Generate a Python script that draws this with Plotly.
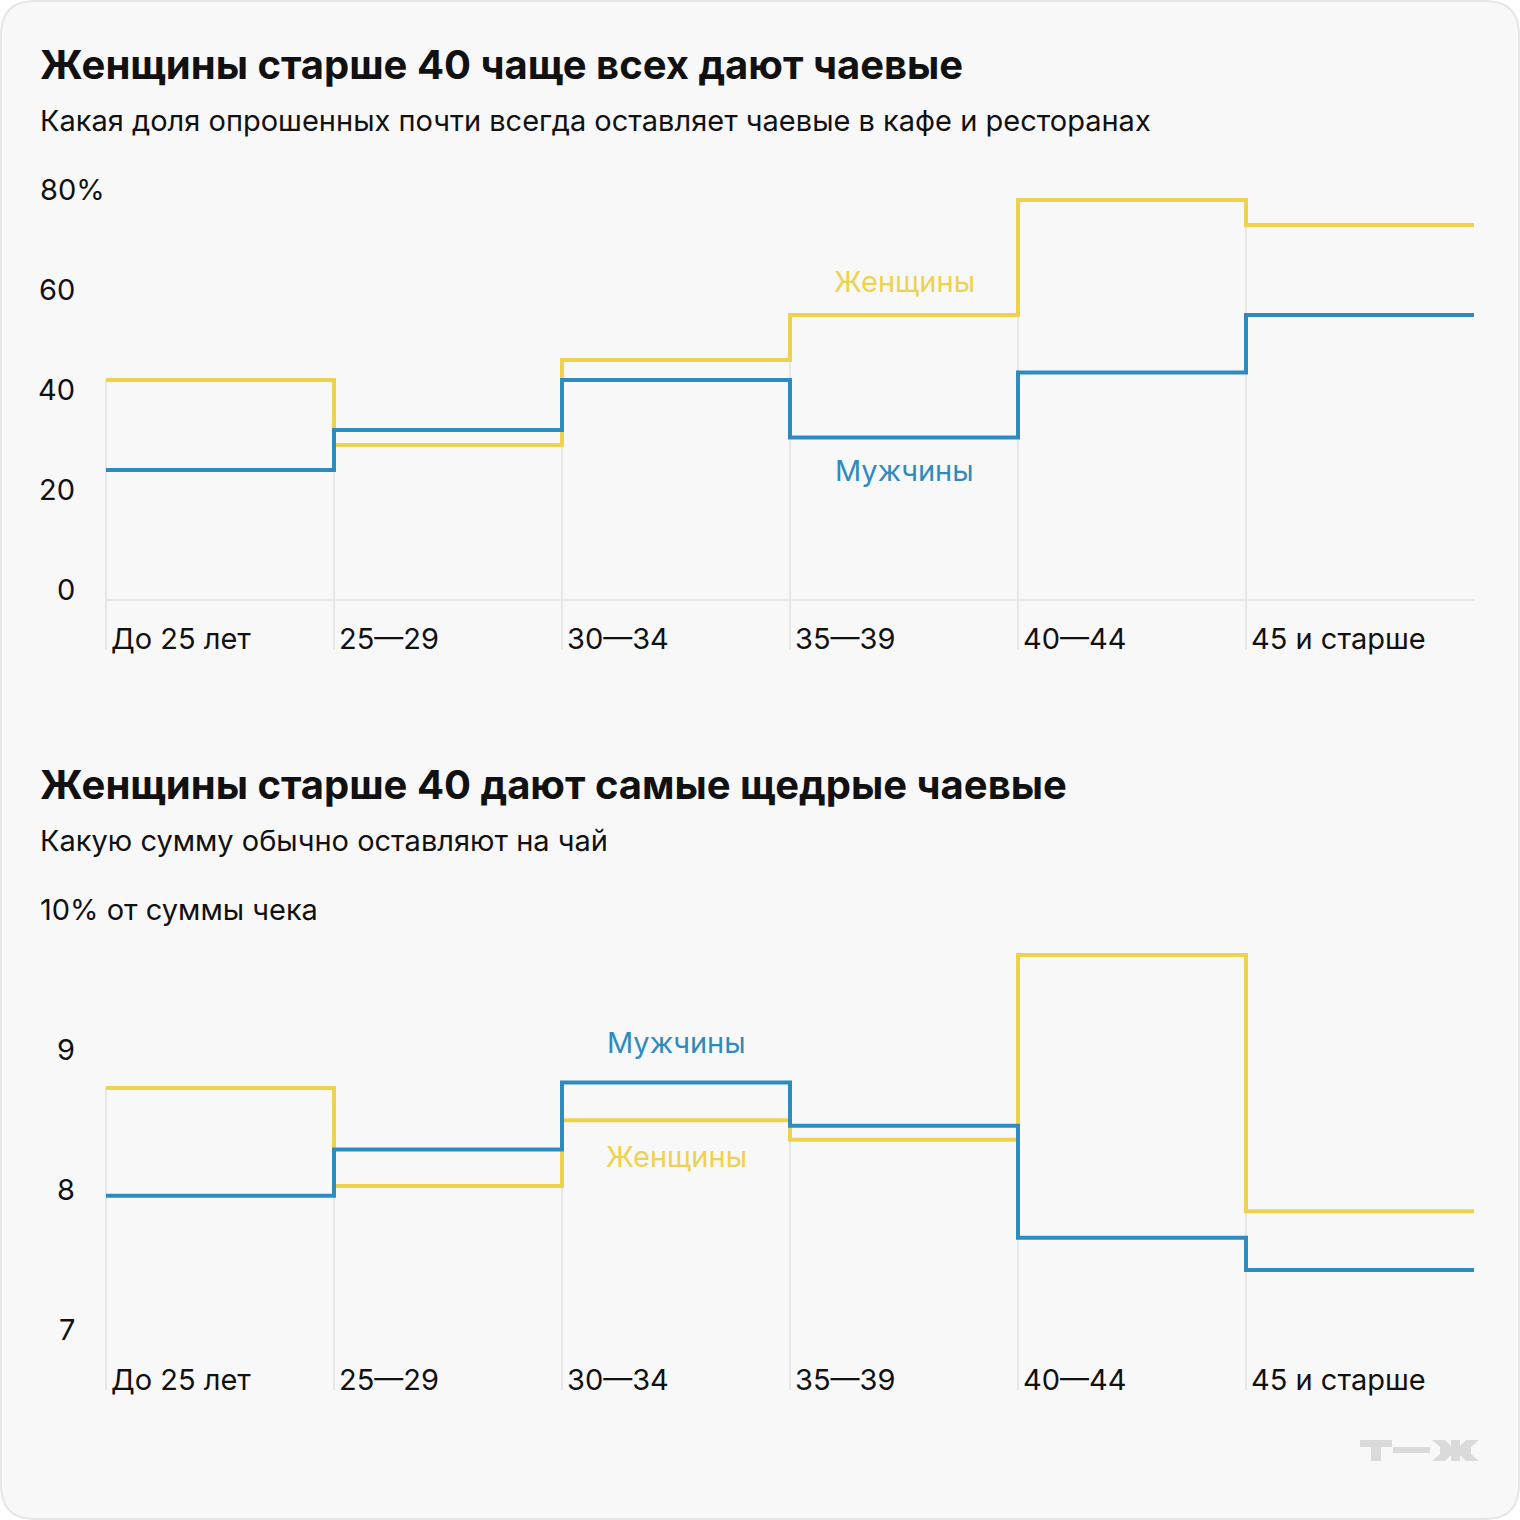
import plotly.graph_objects as go

# ---------------- data ----------------
categories = ["До 25 лет", "25—29", "30—34", "35—39", "40—44", "45 и старше"]
women_share = [44, 31, 48, 57, 80, 75]
men_share = [26, 34, 44, 32.5, 45.5, 57]
women_tip = [8.8, 8.1, 8.57, 8.43, 9.75, 7.92]
men_tip = [8.03, 8.36, 8.84, 8.53, 7.73, 7.5]
share_ticks = [0, 20, 40, 60, 80]
share_ticktext = ["0", "20", "40", "60", "80%"]
tip_ticks = [7, 8, 9, 10]
tip_ticktext = ["7", "8", "9", "10% от суммы чека"]

title1 = "Женщины старше 40 чаще всех дают чаевые"
sub1 = "Какая доля опрошенных почти всегда оставляет чаевые в кафе и ресторанах"
title2 = "Женщины старше 40 дают самые щедрые чаевые"
sub2 = "Какую сумму обычно оставляют на чай"
women_name = "Женщины"
men_name = "Мужчины"

# ---------------- style ----------------
W = H = 1520
YELLOW = "#eed24f"
BLUE = "#2e8bbf"
GRID = "#e1e1e1"
TEXT = "#111111"
FONT = "Inter"

def pxx(p):
    return p / W

def pxy(p):
    return 1 - p / H

n = len(categories)
X0, UNIT, PAD = 106, 228, 0.03
xdom = [pxx(X0 - PAD * UNIT), pxx(X0 + (n + PAD) * UNIT)]
xrange_ = [-PAD, n + PAD]

y1_range = [-10, 85]
y1_dom = [pxy(650), pxy(175)]
y2_range = [7 - 50 / 140, 10.1]
y2_dom = [pxy(1390), pxy(906)]

fig = go.Figure()


def add_chart(xa, ya, women, men, ybottom, baseline):
    xs, ys = [], []
    for i in range(n):
        xs += [i, i, None]
        ys += [ybottom, max(women[i], men[i]), None]
    fig.add_trace(go.Scatter(x=xs, y=ys, mode="lines", xaxis=xa, yaxis=ya,
                             line=dict(color=GRID, width=1.5), hoverinfo="skip",
                             showlegend=False))
    if baseline is not None:
        fig.add_trace(go.Scatter(x=[0, n], y=[baseline, baseline], mode="lines",
                                 xaxis=xa, yaxis=ya, line=dict(color=GRID, width=1.5),
                                 hoverinfo="skip", showlegend=False))
    steps_x = list(range(n + 1))
    fig.add_trace(go.Scatter(x=steps_x, y=women + [women[-1]], mode="lines",
                             line_shape="hv", xaxis=xa, yaxis=ya, name=women_name,
                             line=dict(color=YELLOW, width=4), showlegend=False))
    fig.add_trace(go.Scatter(x=steps_x, y=men + [men[-1]], mode="lines",
                             line_shape="hv", xaxis=xa, yaxis=ya, name=men_name,
                             line=dict(color=BLUE, width=4), showlegend=False))


add_chart("x", "y", women_share, men_share, y1_range[0], 0)
add_chart("x2", "y2", women_tip, men_tip, y2_range[0], None)

ann = []
TICKFS = 29


def tick_annotations(yref, xref, ticks, texts, ybottom):
    out = []
    for k, (v, t) in enumerate(zip(ticks, texts)):
        last = k == len(ticks) - 1
        out.append(dict(xref="paper", yref=yref, x=pxx(38) if last else pxx(77), y=v,
                        xanchor="left" if last else "right", yanchor="middle", yshift=10.5,
                        text=t, showarrow=False, font=dict(size=TICKFS, color=TEXT, family=FONT)))
    for i, c in enumerate(categories):
        out.append(dict(xref=xref, yref=yref, x=i, y=ybottom, xanchor="left", xshift=3,
                        yanchor="middle", yshift=11, text=c, showarrow=False,
                        font=dict(size=TICKFS, color=TEXT, family=FONT)))
    return out


ann += tick_annotations("y", "x", share_ticks, share_ticktext, y1_range[0])
ann += tick_annotations("y2", "x2", tip_ticks, tip_ticktext, y2_range[0])

# series labels
ann.append(dict(xref="x", yref="y", x=3.5, y=women_share[3], yshift=33, text=women_name,
                showarrow=False, font=dict(size=TICKFS, color=YELLOW, family=FONT)))
ann.append(dict(xref="x", yref="y", x=3.5, y=men_share[3], yshift=-33, text=men_name,
                showarrow=False, font=dict(size=TICKFS, color=BLUE, family=FONT)))
ann.append(dict(xref="x2", yref="y2", x=2.5, y=men_tip[2], yshift=40, text=men_name,
                showarrow=False, font=dict(size=TICKFS, color=BLUE, family=FONT)))
ann.append(dict(xref="x2", yref="y2", x=2.5, y=women_tip[2], yshift=-36, text=women_name,
                showarrow=False, font=dict(size=TICKFS, color=YELLOW, family=FONT)))

# titles
for txt, cy, fs, bold in [(title1, 64, 40, True), (sub1, 120, 29, False),
                          (title2, 784, 40, True), (sub2, 840, 29, False)]:
    ann.append(dict(xref="paper", yref="paper", x=pxx(38), y=pxy(cy), xanchor="left",
                    yanchor="middle", text=f"<b>{txt}</b>" if bold else txt, showarrow=False,
                    font=dict(size=fs, color=TEXT, family=FONT)))

# background card with rounded corners
r = 34 / W
a, b = pxx(1), pxx(1519)
t, btm = 1 - pxx(1), 1 - pxx(1519)
card = (f"M {a + r},{t} L {b - r},{t} Q {b},{t} {b},{t - r} L {b},{btm + r} "
        f"Q {b},{btm} {b - r},{btm} L {a + r},{btm} Q {a},{btm} {a},{btm + r} "
        f"L {a},{t - r} Q {a},{t} {a + r},{t} Z")
shapes = [dict(type="path", xref="paper", yref="paper", path=card, fillcolor="#f8f8f8",
               line=dict(color="#e6e6e6", width=2), layer="below")]

# logo т—ж
LOGO = "#dadada"


def poly(pts):
    s = "M " + " L ".join(f"{pxx(x)},{pxy(y)}" for x, y in pts) + " Z"
    return dict(type="path", xref="paper", yref="paper", path=s, fillcolor=LOGO,
                line=dict(width=0), layer="above")


logo_polys = [
    [(1360, 1440), (1392, 1440), (1392, 1447), (1360, 1447)],
    [(1371, 1440), (1381, 1440), (1381, 1461), (1371, 1461)],
    [(1393, 1447), (1430, 1447), (1430, 1453), (1393, 1453)],
    [(1440, 1447), (1471, 1447), (1471, 1454), (1440, 1454)],
    [(1451, 1440), (1460, 1440), (1460, 1461), (1451, 1461)],
    [(1432, 1440), (1445, 1440), (1452, 1447), (1440, 1447)],
    [(1440, 1454), (1452, 1454), (1445, 1461), (1432, 1461)],
    [(1479, 1440), (1466, 1440), (1459, 1447), (1471, 1447)],
    [(1471, 1454), (1459, 1454), (1466, 1461), (1479, 1461)],
]
shapes += [poly(p) for p in logo_polys]

axis_common = dict(showgrid=False, zeroline=False, showticklabels=False, ticks="",
                   showline=False, fixedrange=True)
fig.update_layout(
    width=W, height=H, margin=dict(l=0, r=0, t=0, b=0),
    paper_bgcolor="#ffffff", plot_bgcolor="rgba(0,0,0,0)",
    font=dict(family=FONT, color=TEXT),
    xaxis=dict(domain=xdom, range=xrange_, anchor="y", **axis_common),
    yaxis=dict(domain=y1_dom, range=y1_range, anchor="x", **axis_common),
    xaxis2=dict(domain=xdom, range=xrange_, anchor="y2", **axis_common),
    yaxis2=dict(domain=y2_dom, range=y2_range, anchor="x2", **axis_common),
    annotations=ann, shapes=shapes, showlegend=False,
)

fig.write_html("out.html")
